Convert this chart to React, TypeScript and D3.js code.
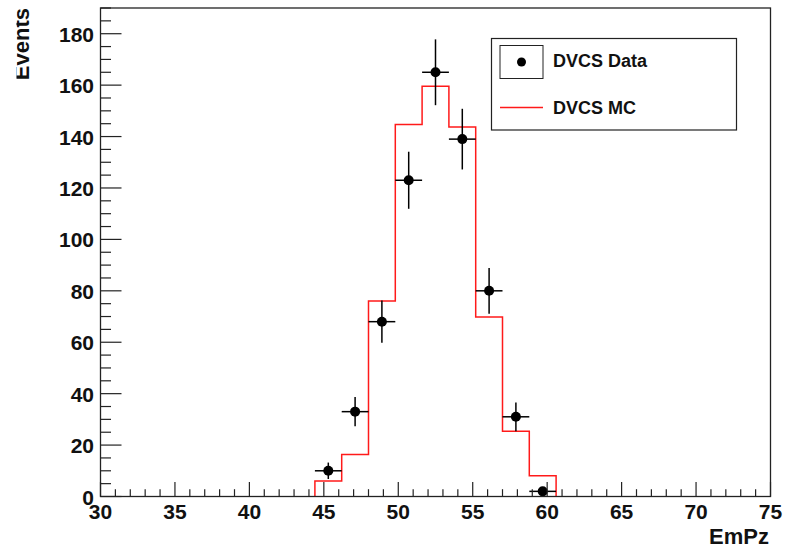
import { useEffect, useRef } from "react";
import * as d3 from "d3";

// MC histogram: 25 bins from 30 to 75 (width 1.8), only non-empty ones listed
const mcEdges = [44.4, 46.2, 48.0, 49.8, 51.6, 53.4, 55.2, 57.0, 58.8, 60.6];
const mcCounts = [6, 16.3, 76, 144.7, 159.6, 143.7, 69.8, 25.4, 8.1];

// data points at bin centres
const dataX = [45.3, 47.1, 48.9, 50.7, 52.5, 54.3, 56.1, 57.9, 59.7];
const dataY = [10, 33, 68, 123, 165, 139, 80, 31, 2];
const dataErr = [3.2, 5.7, 8.2, 11.1, 12.8, 11.8, 8.9, 5.6, 1.4];
const halfBin = 0.9;

const xTicks = [30, 35, 40, 45, 50, 55, 60, 65, 70, 75];
const yTicks = [0, 20, 40, 60, 80, 100, 120, 140, 160, 180];

const W = 788, H = 552;
const F = { left: 100.5, right: 770.5, top: 8, bottom: 496.5 };
const FONT = "Liberation Sans, Arial, Helvetica, sans-serif";

export default function App() {
  const ref = useRef<SVGSVGElement>(null);

  useEffect(() => {
    const svg = d3.select(ref.current);
    svg.selectAll("*").remove();

    const x = d3.scaleLinear().domain([30, 75]).range([F.left, F.right]);
    const y = d3.scaleLinear().domain([0, 190]).range([F.bottom, F.top]);

    svg.append("rect").attr("width", W).attr("height", H).attr("fill", "#fff");

    // MC histogram (step outline)
    let d = `M${x(mcEdges[0])},${y(0)}`;
    mcCounts.forEach((c, i) => {
      d += `L${x(mcEdges[i])},${y(c)}L${x(mcEdges[i + 1])},${y(c)}`;
    });
    d += `L${x(mcEdges[mcEdges.length - 1])},${y(0)}`;
    svg.append("path").attr("d", d).attr("fill", "none")
      .attr("stroke", "#ff1a1a").attr("stroke-width", 1.5);

    // data points with error bars
    const g = svg.append("g");
    dataX.forEach((v, i) => {
      const cx = x(v), cy = y(dataY[i]);
      g.append("line").attr("x1", x(v - halfBin)).attr("x2", x(v + halfBin))
        .attr("y1", cy).attr("y2", cy).attr("stroke", "#000").attr("stroke-width", 1.5);
      g.append("line").attr("x1", cx).attr("x2", cx)
        .attr("y1", y(dataY[i] + dataErr[i])).attr("y2", Math.min(y(dataY[i] - dataErr[i]), F.bottom))
        .attr("stroke", "#000").attr("stroke-width", 1.5);
      g.append("circle").attr("cx", cx).attr("cy", cy).attr("r", 5).attr("fill", "#000");
    });

    // frame
    svg.append("rect").attr("x", F.left).attr("y", F.top)
      .attr("width", F.right - F.left).attr("height", F.bottom - F.top)
      .attr("fill", "none").attr("stroke", "#222").attr("stroke-width", 1.3);

    // x ticks (inside, pointing up)
    d3.range(30, 75.01, 1).forEach(v => {
      const major = v % 5 === 0;
      svg.append("line").attr("x1", x(v)).attr("x2", x(v))
        .attr("y1", F.bottom).attr("y2", F.bottom - (major ? 14.5 : 7.3))
        .attr("stroke", "#222").attr("stroke-width", 1.2);
    });
    xTicks.forEach(v => {
      svg.append("text").attr("x", x(v)).attr("y", 519)
        .attr("text-anchor", "middle").attr("font-family", FONT)
        .attr("font-weight", "bold").attr("font-size", 21).attr("fill", "#111")
        .text(v);
    });

    // y ticks (inside, pointing right)
    d3.range(0, 190.01, 5).forEach(v => {
      const major = v % 20 === 0;
      svg.append("line").attr("x1", F.left).attr("x2", F.left + (major ? 21 : 10.5))
        .attr("y1", y(v)).attr("y2", y(v))
        .attr("stroke", "#222").attr("stroke-width", 1.2);
    });
    yTicks.forEach(v => {
      svg.append("text").attr("x", 94).attr("y", y(v) + 8)
        .attr("text-anchor", "end").attr("font-family", FONT)
        .attr("font-weight", "bold").attr("font-size", 21).attr("fill", "#111")
        .text(v);
    });

    // axis titles
    svg.append("text").attr("x", 769).attr("y", 544)
      .attr("text-anchor", "end").attr("font-family", FONT)
      .attr("font-weight", "bold").attr("font-size", 22).attr("fill", "#111")
      .text("EmPz");

    svg.append("clipPath").attr("id", "lclip")
      .append("rect").attr("x", 16.5).attr("y", 0).attr("width", 40).attr("height", 120);
    svg.append("g").attr("clip-path", "url(#lclip)")
      .append("text").attr("transform", "translate(28.5,8) rotate(-90)")
      .attr("text-anchor", "end").attr("font-family", FONT)
      .attr("font-weight", "bold").attr("font-size", 22).attr("fill", "#111")
      .text("Events");

    // legend
    const lg = svg.append("g");
    lg.append("rect").attr("x", 491.5).attr("y", 38.5).attr("width", 245).attr("height", 91.5)
      .attr("fill", "#fff").attr("stroke", "#222").attr("stroke-width", 1.2);
    lg.append("rect").attr("x", 500).attr("y", 45.5).attr("width", 43).attr("height", 33)
      .attr("fill", "none").attr("stroke", "#222").attr("stroke-width", 1);
    lg.append("circle").attr("cx", 521.5).attr("cy", 62).attr("r", 4.5).attr("fill", "#000");
    lg.append("text").attr("x", 553).attr("y", 67).attr("font-family", FONT)
      .attr("font-weight", "bold").attr("font-size", 18).attr("fill", "#111").text("DVCS Data");
    lg.append("line").attr("x1", 500).attr("x2", 543).attr("y1", 107.5).attr("y2", 107.5)
      .attr("stroke", "#ff1a1a").attr("stroke-width", 1.3);
    lg.append("text").attr("x", 553).attr("y", 113.5).attr("font-family", FONT)
      .attr("font-weight", "bold").attr("font-size", 18).attr("fill", "#111").text("DVCS MC");
  }, []);

  return (
    <div style={{ position: "absolute", left: 0, top: 0 }}>
      <svg ref={ref} width={W} height={H} style={{ display: "block" }} />
    </div>
  );
}
